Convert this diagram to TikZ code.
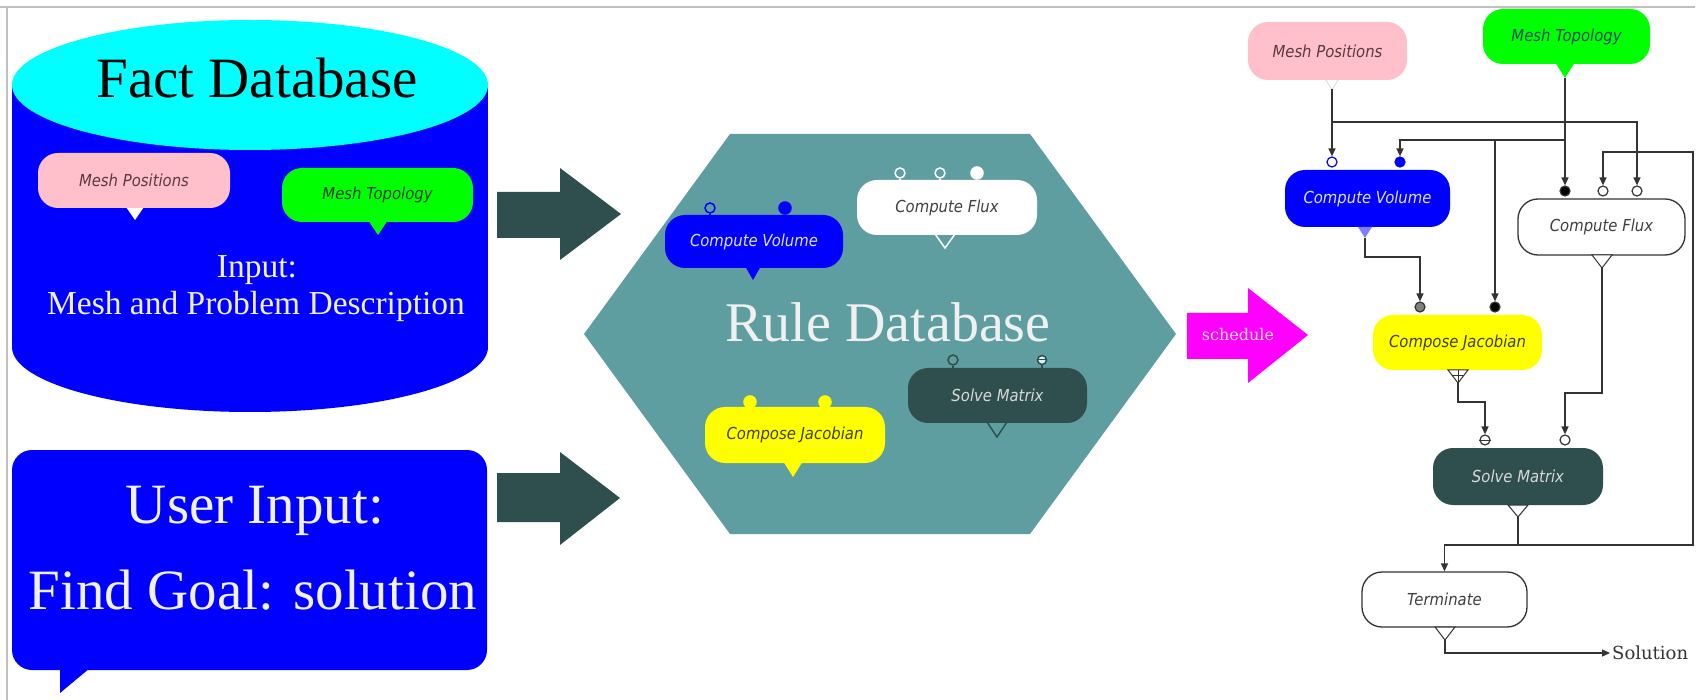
\documentclass[tikz,border=0pt]{standalone}
\usepackage{fontspec}
\setmainfont{Liberation Serif}
\newfontfamily\labfont[FakeStretch=0.9]{DejaVu Sans}
\newfontfamily\slabfont{DejaVu Serif}
\usetikzlibrary{arrows.meta}
\definecolor{dslate}{HTML}{2F4F4F}
\definecolor{cadet}{HTML}{5F9EA0}
\definecolor{pinkb}{HTML}{FFC0CB}
\definecolor{greenb}{HTML}{00FF00}
\definecolor{bluef}{HTML}{0000FF}
\definecolor{cyanf}{HTML}{00FFFF}
\definecolor{yellowb}{HTML}{FFFF00}
\definecolor{magentaf}{HTML}{FF00FF}
\definecolor{edgecol}{HTML}{333333}
\definecolor{mptext}{HTML}{5A3A3A}
\definecolor{mttext}{HTML}{1A4A6A}
\definecolor{mtctext}{HTML}{1F401F}
\definecolor{cvtext}{HTML}{E0E0FF}
\definecolor{cftext}{HTML}{404040}
\definecolor{cjtext}{HTML}{404000}
\definecolor{smtext}{HTML}{D8D8D8}
\definecolor{cvtail}{HTML}{8080FF}
\definecolor{bordercol}{HTML}{C0C0C0}
\definecolor{whitetext}{HTML}{F0F0FF}
\definecolor{schedtext}{HTML}{FFE0FF}
\tikzset{
  bub/.style={rounded corners=20pt, inner sep=0pt, minimum height=55pt,
    font=\labfont\itshape\fontsize{16.5}{20}\selectfont},
  edge/.style={draw=edgecol, line width=1.3pt, -{Triangle[length=8pt,width=7pt]}},
  plainline/.style={draw=edgecol, line width=1.3pt},
  rport/.style={circle, draw=edgecol, fill=white, line width=1.2pt, inner sep=0pt, minimum size=10pt},
  hport/.style={circle, line width=1.5pt, inner sep=0pt, minimum size=10pt},
  bigtext/.style={anchor=base, font=\fontsize{57}{60}\selectfont},
  dkarrow/.style={fill=dslate},
}
\begin{document}
\begin{tikzpicture}[x=1pt,y=-1pt]
\useasboundingbox (0,0) rectangle (1703,700);
\fill[white] (0,0) rectangle (1703,700);
% frame lines
\draw[bordercol, line width=1.5pt] (0,7) -- (1695,7);
\draw[bordercol, line width=1.5pt] (7,7) -- (7,700);

% ---------- Fact database cylinder ----------
\fill[bluef] (250,347) ellipse [x radius=238pt, y radius=65pt];
\fill[bluef] (12,85) rectangle (488,347);
\fill[cyanf] (250,85) ellipse [x radius=238pt, y radius=65pt];
\node[bigtext] (factdb) at (257,98) {Fact Database};
\node[anchor=base, text=whitetext, font=\fontsize{33.5}{37}\selectfont] (inp1) at (257,278) {Input:};
\node[anchor=base, text=whitetext, font=\fontsize{33.5}{37}\selectfont] (inp2) at (256,315) {Mesh and Problem Description};
\fill[white] (126,207) -- (144,207) -- (135,220) -- cycle;
\node[bub, fill=pinkb, text=mptext, minimum width=192pt] (mpc) at (134,180.5) {Mesh Positions};
\fill[greenb] (368,220) -- (388,220) -- (378,235) -- cycle;
\node[bub, fill=greenb, text=mtctext, minimum width=191pt, minimum height=54pt] (mtc) at (377.5,195) {Mesh Topology};

% ---------- User input bubble ----------
\fill[bluef, rounded corners=20pt] (12,450) rectangle (487,670);
\fill[bluef] (60,668) -- (60,693) -- (90,668) -- cycle;
\node[bigtext, text=whitetext] (ui1) at (255,523) {User Input:};
\node[bigtext, text=whitetext] (ui2) at (253,609) {Find Goal: solution};

% ---------- dark arrows ----------
\fill[dkarrow] (497,192) -- (560,192) -- (560,168) -- (621,214) -- (560,260) -- (560,238) -- (497,238) -- cycle;
\fill[dkarrow] (497,473) -- (560,473) -- (560,452) -- (620,498) -- (560,545) -- (560,522) -- (497,522) -- cycle;

% ---------- Rule database hexagon ----------
\fill[cadet] (584,334) -- (730,134) -- (1030,134) -- (1176,334) -- (1030,534) -- (730,534) -- cycle;
\node[bigtext, text=white!94!black, font=\fontsize{56}{60}\selectfont] (ruledb) at (888,342) {Rule Database};

% Compute Volume (rule)
\fill[bluef] (745,266) -- (761,266) -- (753,280) -- cycle;
\node[bub, fill=bluef, text=cvtext, minimum width=178pt, minimum height=53pt] (cvh) at (754,241.5) {Compute Volume};
\node[hport, draw=bluef, fill=cadet] (cvhp1) at (710,208) {};
\node[hport, draw=bluef, fill=bluef, minimum size=12pt] (cvhp2) at (785,208) {};
\draw[bluef, line width=1.5pt] (cvhp1.south) -- (cvhp1.south |- cvh.north);
\draw[bluef, line width=1.5pt] (cvhp2.south) -- (cvhp2.south |- cvh.north);

% Compute Flux (rule)
\draw[white, line width=1.5pt] (935,234) -- (945,248) -- (955,234);
\node[bub, fill=white, text=cftext, minimum width=180pt] (cfh) at (947,207.5) {Compute Flux};
\node[hport, draw=white, fill=cadet] (cfhp1) at (900,173) {};
\node[hport, draw=white, fill=cadet] (cfhp2) at (940,173) {};
\node[hport, draw=white, fill=white, minimum size=12pt] (cfhp3) at (977,173) {};
\foreach \p in {cfhp1,cfhp2,cfhp3}
  \draw[white, line width=1.5pt] (\p.south) -- (\p.south |- cfh.north);

% Solve Matrix (rule)
\draw[dslate, line width=1.5pt] (987,422) -- (997,437) -- (1007,422);
\node[bub, fill=dslate, text=smtext, minimum width=179pt] (smh) at (997.5,395.5) {Solve Matrix};
\node[hport, draw=dslate, fill=cadet] (smhp1) at (953,360) {};
\node[hport, draw=dslate, fill=white!80!cadet, minimum size=9pt] (smhp2) at (1042,360) {};
\draw[dslate, line width=1pt] (smhp2.west) -- (smhp2.east);
\foreach \p in {smhp1,smhp2}
  \draw[dslate, line width=1.5pt] (\p.south) -- (\p.south |- smh.north);

% Compose Jacobian (rule)
\fill[yellowb] (783,461) -- (803,461) -- (793,477) -- cycle;
\node[bub, fill=yellowb, text=cjtext, minimum width=180pt, minimum height=56pt] (cjh) at (795,435) {Compose Jacobian};
\node[hport, draw=yellowb, fill=yellowb, minimum size=12pt] (cjhp1) at (750,402) {};
\node[hport, draw=yellowb, fill=yellowb, minimum size=12pt] (cjhp2) at (825,402) {};

% ---------- schedule arrow ----------
\fill[magentaf] (1187,313) -- (1248,313) -- (1248,288) -- (1308,335) -- (1248,383) -- (1248,359) -- (1187,359) -- cycle;
\node[text=schedtext, font=\slabfont\fontsize{16}{18}\selectfont] (sched) at (1238,335) {schedule};

% ---------- schedule graph ----------
\node[bub, fill=pinkb, text=mptext, minimum width=159pt, minimum height=58pt] (mp) at (1327.5,51) {Mesh Positions};
\fill[greenb] (1555,62) -- (1575,62) -- (1565,78) -- cycle;
\node[bub, fill=greenb, text=mttext, minimum width=167pt] (mt) at (1566.5,36.5) {Mesh Topology};
\node[bub, fill=bluef, text=cvtext, minimum width=165pt, minimum height=57pt] (cv) at (1367.5,198.5) {Compute Volume};
\node[bub, fill=white, draw=edgecol, line width=1.3pt, text=cftext, minimum width=167pt, minimum height=56pt] (cf) at (1601.5,227) {Compute Flux};
\node[bub, fill=yellowb, text=cjtext, minimum width=169pt] (cj) at (1457.5,342.5) {Compose Jacobian};
\node[bub, fill=dslate, text=smtext, minimum width=170pt, minimum height=57pt] (sm) at (1518,476.5) {Solve Matrix};
\node[bub, fill=white, draw=edgecol, line width=1.3pt, text=cftext, minimum width=165pt] (term) at (1444.5,599.5) {Terminate};
\node[anchor=west, inner sep=2pt, text=edgecol, font=\slabfont\fontsize{18}{20}\selectfont] (sol) at (1610,653) {Solution};

% output tails
\draw[gray!25, line width=1pt] (1326,80) -- (1332,90) -- (1338,80);
\coordinate (mpout) at (1332,89);
\coordinate (mtout) at (1565,78);
\fill[cvtail] (1358,227) -- (1372,227) -- (1365,238) -- cycle;
\coordinate (cvout) at (1365,238);
\filldraw[fill=white, draw=edgecol, line width=1pt] (1592,255) -- (1602,268) -- (1612,255) -- cycle;
\coordinate (cfout) at (1602,268);
\filldraw[fill=white, draw=edgecol, line width=1pt] (1448,370) -- (1458,383) -- (1468,370) -- cycle;
\draw[edgecol, line width=0.8pt] (1452,375) -- (1464,375) (1458,370) -- (1458,383);
\coordinate (cjout) at (1458,383);
\filldraw[fill=white, draw=edgecol, line width=1pt] (1508,505) -- (1518,517) -- (1528,505) -- cycle;
\coordinate (smout) at (1518,517);
\filldraw[fill=white, draw=edgecol, line width=1pt] (1435,627) -- (1445,640) -- (1455,627) -- cycle;
\coordinate (termout) at (1445,640);

% input ports
\node[rport, draw=bluef] (cvp1) at (1332,162) {};
\node[rport, draw=bluef, fill=bluef] (cvp2) at (1400,162) {};
\node[rport, fill=black] (cfp1) at (1565,191) {};
\node[rport] (cfp2) at (1603,191) {};
\node[rport] (cfp3) at (1637,191) {};
\node[rport, fill=gray] (cjp1) at (1420,307) {};
\node[rport, fill=black] (cjp2) at (1495,307) {};
\node[rport] (smp1) at (1485,440) {};
\draw[edgecol, line width=1pt] (smp1.west) -- (smp1.east);
\node[rport] (smp2) at (1565,440) {};

% connectors
\draw[edge] (mpout) -- (cvp1.north);
\coordinate (j1) at (1332,122);
\draw[edge] (j1) -| (cfp3.north);
\draw[edge] (mtout) -- (cfp1.north);
\coordinate (j2) at (1565,140);
\draw[edge] (j2) -| (cvp2.north);
\coordinate (j3) at (1495,140);
\draw[edge] (j3) -- (cjp2.north);
\draw[edge] (cvout) -- ++(0,19) -| (cjp1.north);
\draw[edge] (cfout) -- ++(0,125) -| (smp2.north);
\draw[edge] (cjout) -- ++(0,19) -| (smp1.north);
\coordinate (j4) at (1518,545);
\draw[plainline] (smout) -- (j4);
\draw[edge] (j4) -| (term.north);
\coordinate (loopa) at (1693,545);
\coordinate (loopb) at (1693,152);
\draw[edge] (j4) -- (loopa) -- (loopb) -| (cfp2.north);
\draw[edge] (termout) |- (sol.west);
\end{tikzpicture}
\end{document}
